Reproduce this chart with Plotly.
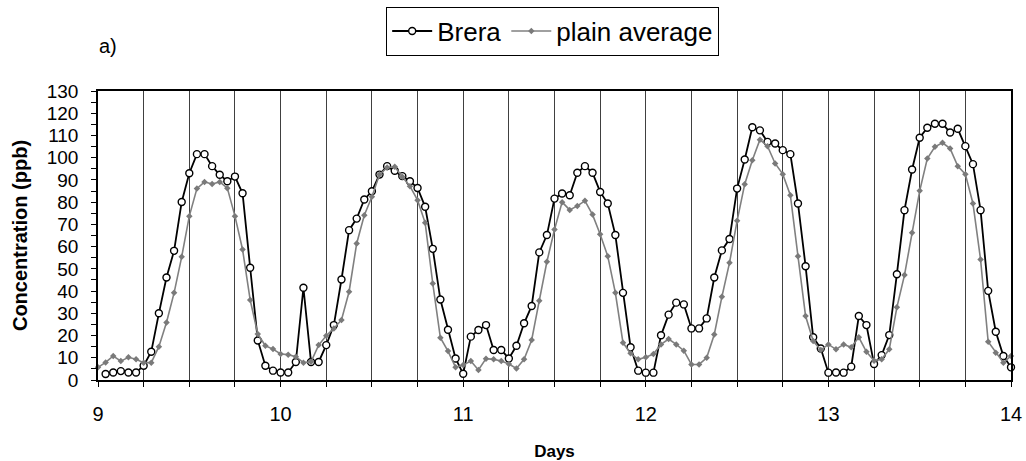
import plotly.graph_objects as go

# Hourly values; hour index counted from day 9, 00:00
brera_hours = list(range(1, 121))
brera = [
    2.7, 3.4, 4.0, 3.4, 3.4, 6.4, 12.7, 30.0, 46.1, 58.1, 80.1, 93.0, 101.6, 101.6, 96.2,
    92.3, 89.4, 91.5, 84.0, 50.5, 17.8, 6.4, 4.2, 3.4, 3.4, 8.1, 41.5, 8.1, 8.1,
    15.7, 24.7, 45.2, 67.4, 72.6, 81.2, 84.9, 92.4, 96.2, 94.1, 91.7, 89.4, 86.4, 77.9,
    59.0, 36.2, 22.6, 9.7, 2.8, 19.5, 22.5, 24.7, 13.5, 13.5, 9.7, 15.4, 25.5, 33.3,
    57.4, 65.2, 81.6, 83.9, 83.1, 93.2, 96.2, 93.2, 84.6, 79.4, 65.2, 39.2, 14.7, 4.2,
    3.3, 3.3, 20.1, 29.4, 34.8, 34.0, 23.2, 23.2, 27.7, 46.1, 58.3, 63.4, 86.1,
    99.2, 113.7, 112.3, 107.1, 106.4, 103.4, 101.6, 79.4, 51.2, 19.2, 14.2, 3.3, 3.4,
    3.3, 6.0, 28.8, 24.7, 7.2, 11.2, 20.2, 47.6, 76.4, 94.7, 109.0, 113.5, 115.3, 115.3,
    111.3, 113.0, 105.2, 97.1, 76.4, 40.1, 21.7, 10.8, 5.7,
]

avg_hours = list(range(0, 121))
plain_average = [
    5.7,
    7.9, 10.8, 8.5, 10.2, 9.3, 7.8, 7.8, 15.0, 25.9, 39.2, 55.4, 73.7, 86.1, 89.1, 88.2,
    89.1, 86.3, 73.7, 58.7, 36.0, 20.7, 15.4, 13.9, 11.7, 11.4, 10.5, 7.8, 8.2, 15.7,
    19.9, 23.2, 27.0, 39.7, 61.4, 74.1, 82.4, 92.4, 95.6, 95.9, 91.4, 87.2, 80.9, 70.7,
    43.4, 19.0, 13.0, 5.7, 6.7, 8.5, 4.5, 9.6, 9.3, 8.5, 7.2, 5.2, 9.3, 18.0,
    35.7, 53.2, 67.7, 80.0, 76.5, 78.3, 80.6, 74.4, 65.6, 55.7, 39.2, 16.8, 12.0, 9.3,
    10.2, 11.7, 16.0, 18.4, 16.0, 13.2, 7.0, 7.0, 10.0, 20.5, 37.4, 52.7, 71.6,
    88.1, 98.9, 108.1, 105.2, 97.4, 92.6, 83.1, 55.7, 28.8, 17.5, 13.5, 16.0, 13.8,
    16.0, 14.7, 19.2, 12.7, 8.7, 9.3, 13.8, 32.7, 47.2, 66.2, 85.1, 99.6, 104.9, 106.7,
    104.1, 96.2, 92.6, 79.4, 54.2, 17.2, 12.3, 7.8, 10.8,
]

start_day = 9
day_ticks = [9, 10, 11, 12, 13, 14]
y_ticks = list(range(0, 131, 10))

brera_x = [start_day + h / 24 for h in brera_hours]
avg_x = [start_day + h / 24 for h in avg_hours]

FONT = "Liberation Sans, Arial, sans-serif"

fig = go.Figure()
fig.add_trace(go.Scatter(
    x=brera_x, y=brera, name="Brera", mode="lines+markers",
    line=dict(color="black", width=1.8),
    marker=dict(symbol="circle", size=7, color="white", line=dict(color="black", width=1.4)),
    cliponaxis=False,
))
fig.add_trace(go.Scatter(
    x=avg_x, y=plain_average, name="plain average", mode="lines+markers",
    line=dict(color="#808080", width=1.6),
    marker=dict(symbol="diamond", size=5, color="#7a7a7a"),
    cliponaxis=False,
))

fig.update_layout(
    width=1026, height=461,
    margin=dict(l=98, r=15, t=91, b=81, autoexpand=False),
    paper_bgcolor="white", plot_bgcolor="white",
    font=dict(family=FONT, color="black"),
    showlegend=True,
    legend=dict(
        orientation="h", x=0.498, xanchor="center", y=1.292, yanchor="top",
        bordercolor="black", borderwidth=1, bgcolor="white",
        font=dict(size=26, family=FONT),
        itemwidth=40,
    ),
    annotations=[dict(
        text="a)", xref="paper", yref="paper", x=0.011, y=1.1545,
        xanchor="center", yanchor="middle", showarrow=False,
        font=dict(size=20, family=FONT),
    )],
)

fig.update_xaxes(
    range=[9, 14], tickvals=day_ticks, ticktext=[str(d) for d in day_ticks],
    ticks="outside", ticklen=5, tickcolor="black", tickwidth=1,
    showgrid=True, gridcolor="#404040", gridwidth=1,
    minor=dict(dtick=0.25, ticks="outside", ticklen=5, tickcolor="black",
               showgrid=True, gridcolor="#404040", gridwidth=1),
    showline=True, linecolor="black", linewidth=1.5, mirror=True,
    zeroline=False, automargin=False,
    tickfont=dict(size=20, family=FONT),
    ticklabelstandoff=10,
    title=dict(text="<b>Days</b>", font=dict(size=17, family=FONT), standoff=22),
)
fig.update_yaxes(
    range=[0, 130], tickvals=y_ticks,
    ticks="outside", ticklen=5, tickcolor="black", tickwidth=1,
    minor=dict(dtick=5, ticks="outside", ticklen=5, tickcolor="black", showgrid=False),
    showgrid=False, zeroline=False, automargin=False,
    showline=True, linecolor="black", linewidth=1.5, mirror=True,
    tickfont=dict(size=19, family=FONT),
    ticklabelstandoff=9,
    title=dict(text="<b>Concentration (ppb)</b>", font=dict(size=20, family=FONT), standoff=14),
)

fig.write_html("out.html")
